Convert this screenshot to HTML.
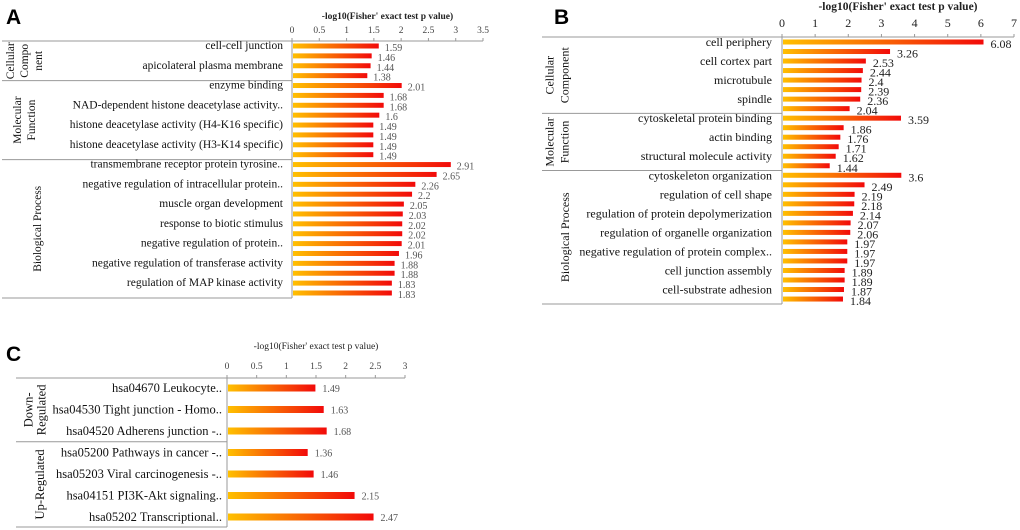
<!DOCTYPE html>
<html><head><meta charset="utf-8">
<style>
html,body{margin:0;padding:0;background:#fff;}
svg{display:block;font-family:"Liberation Serif",serif;}
.panel{font-family:"Liberation Sans",sans-serif;font-weight:bold;font-size:21px;}
</style></head>
<body>
<svg id="fig" width="1020" height="530" viewBox="0 0 1020 530">
<defs>
<linearGradient id="barGrad" x1="0" y1="0" x2="1" y2="0">
<stop offset="0" stop-color="#ffc000"/><stop offset="1" stop-color="#f20a0a"/>
</linearGradient>
</defs>
<text class="panel" x="6" y="24">A</text>
<text class="panel" x="554" y="24">B</text>
<text class="panel" x="6" y="361">C</text>
</svg>
<script>
// Panel A data
const aValues = [1.59,1.46,1.44,1.38,2.01,1.68,1.68,1.6,1.49,1.49,1.49,1.49,2.91,2.65,2.26,2.2,2.05,2.03,2.02,2.02,2.01,1.96,1.88,1.88,1.83,1.83];
const aLabels = ["cell-cell junction","","apicolateral plasma membrane","","enzyme binding","","NAD-dependent histone deacetylase activity..","","histone deacetylase activity (H4-K16 specific)","","histone deacetylase activity (H3-K14 specific)","","transmembrane receptor protein tyrosine..","","negative regulation of intracellular protein..","","muscle organ development","","response to biotic stimulus","","negative regulation of protein..","","negative regulation of transferase activity","","regulation of MAP kinase activity",""];
const aTicks = [0,0.5,1,1.5,2,2.5,3,3.5];
const aGroups = [["Cellular","Compo","nent"],["Molecular","Function"],["Biological Process"]];
const aGroupSizes = [4,8,14];
// Panel B data
const bValues = [6.08,3.26,2.53,2.44,2.4,2.39,2.36,2.04,3.59,1.86,1.76,1.71,1.62,1.44,3.6,2.49,2.19,2.18,2.14,2.07,2.06,1.97,1.97,1.97,1.89,1.89,1.87,1.84];
const bLabels = ["cell periphery","","cell cortex part","","microtubule","","spindle","","cytoskeletal protein binding","","actin binding","","structural molecule activity","","cytoskeleton organization","","regulation of cell shape","","regulation of protein depolymerization","","regulation of organelle organization","","negative regulation of protein complex..","","cell junction assembly","","cell-substrate adhesion",""];
const bTicks = [0,1,2,3,4,5,6,7];
const bGroups = [["Cellular","Component"],["Molecular","Function"],["Biological Process"]];
const bGroupSizes = [8,6,14];
// Panel C data
const cValues = [1.49,1.63,1.68,1.36,1.46,2.15,2.47];
const cLabels = ["hsa04670 Leukocyte..","hsa04530 Tight junction - Homo..","hsa04520 Adherens junction -..","hsa05200 Pathways in cancer -..","hsa05203 Viral carcinogenesis -..","hsa04151 PI3K-Akt signaling..","hsa05202 Transcriptional.."];
const cTicks = [0,0.5,1,1.5,2,2.5,3];
const cGroups = [["Down-","Regulated"],["Up-Regulated"]];
const cGroupSizes = [3,4];

const NS="http://www.w3.org/2000/svg";
const svg=document.getElementById('fig');
function mk(tag,attrs,parent){const e=document.createElementNS(NS,tag);for(const k in attrs)e.setAttribute(k,attrs[k]);(parent||svg).appendChild(e);return e;}

function panel(cfg,values,labels,ticks,groups,sizes){
  const g=mk('g',{});
  
  
  const maxT=ticks[ticks.length-1];
  const x=v=>cfg.x0+(cfg.x1-cfg.x0)*v/maxT;
  const y=i=>cfg.yFirst+i*cfg.step;
  const title=mk('text',{x:(cfg.x0+cfg.x1)/2,y:cfg.titleY,'text-anchor':'middle','font-size':cfg.titleSize,'font-weight':cfg.titleWeight,fill:'#222'},g);
  title.textContent="-log10(Fisher' exact test p value)";
  
  
  mk('line',{x1:cfg.x0,x2:cfg.x1,y1:cfg.axisY,y2:cfg.axisY,stroke:'#999','stroke-width':1},g);
  ticks.forEach(t=>{
    mk('line',{x1:x(t),x2:x(t),y1:cfg.axisY,y2:cfg.axisY-3,stroke:'#999'},g);
    const tl=mk('text',{x:x(t),y:cfg.tickY,'text-anchor':'middle','font-size':cfg.tickSize,fill:cfg.tickFill},g);
    tl.textContent=String(t);
    
    
  });
  mk('line',{x1:cfg.x0,x2:cfg.x0,y1:cfg.axisY,y2:cfg.bottom,stroke:'#999'},g);
  let start=0;
  const lineY=k=>k===0?cfg.axisY:(k>=values.length?cfg.bottom:(y(k-1)+y(k))/2);
  sizes.forEach((s,gi)=>{
    const top=lineY(start), bot=lineY(start+s);
    mk('line',{x1:cfg.left,x2:cfg.x0,y1:top,y2:top,stroke:'#999'},g);
    if(start+s>=values.length) mk('line',{x1:cfg.left,x2:cfg.x0,y1:bot,y2:bot,stroke:'#999'},g);
    const lines=groups[gi];
    const cy=(top+bot)/2;
    lines.forEach((ln,li)=>{
      const cx=cfg.groupX+(li-(lines.length-1)/2)*cfg.groupLH+(lines.length===1?cfg.groupSingleDx:0);
      const ts=mk('text',{x:cx,y:cy,transform:`rotate(-90 ${cx} ${cy})`,'text-anchor':'middle','dominant-baseline':'central','font-size':cfg.groupSize,fill:'#111'},g);
      ts.textContent=ln;
      
      
    });
    start+=s;
  });
  values.forEach((v,i)=>{
    const r=mk('rect',{x:cfg.x0+1,y:y(i)-cfg.barH/2,width:Math.max(0,x(v)-cfg.x0-1),height:cfg.barH,fill:'url(#barGrad)'},g);
    
    
    const vt=mk('text',{x:x(v)+cfg.valDx,y:y(i)+cfg.valDy,'font-size':cfg.valSize,fill:cfg.valFill},g);
    vt.textContent=String(v);
    
    
    if(labels[i]){
      const lt=mk('text',{x:cfg.labelX,y:y(i)+cfg.labelDy,'text-anchor':'end','font-size':cfg.labelSize,fill:'#111'},g);
      lt.textContent=labels[i];
      
      
    }
  });
}

panel({name:'panel-a-chart',x0:292,x1:483,axisY:41,bottom:298,left:2,yFirst:46,step:9.88,barH:5,titleY:19,titleSize:9.5,titleWeight:'bold',tickY:33,tickSize:9.5,tickFill:'#444',
  valDx:6,valDy:5,valSize:10,valFill:'#555',labelX:283,labelDy:3,labelSize:11.5,groupX:25,groupLH:14,groupSingleDx:13,groupSize:11.5},aValues,aLabels,aTicks,aGroups,aGroupSizes);
panel({name:'panel-b-chart',x0:782,x1:1014,axisY:37,bottom:304,left:542,yFirst:42,step:9.52,barH:5,titleY:10,titleSize:11.5,titleWeight:'bold',tickY:27,tickSize:12,tickFill:'#222',
  valDx:7,valDy:6,valSize:12,valFill:'#222',labelX:772,labelDy:4,labelSize:12,groupX:557,groupLH:15,groupSingleDx:8,groupSize:12},bValues,bLabels,bTicks,bGroups,bGroupSizes);
panel({name:'panel-c-chart',x0:227,x1:405,axisY:378,bottom:527,left:16,yFirst:388,step:21.5,barH:7,titleY:349,titleSize:9.5,titleWeight:'normal',tickY:369,tickSize:9.5,tickFill:'#444',
  valDx:7,valDy:4,valSize:10,valFill:'#555',labelX:222,labelDy:4,labelSize:12.5,groupX:35,groupLH:13,groupSingleDx:5,groupSize:12.5},cValues,cLabels,cTicks,cGroups,cGroupSizes);
</script>
</body></html>
